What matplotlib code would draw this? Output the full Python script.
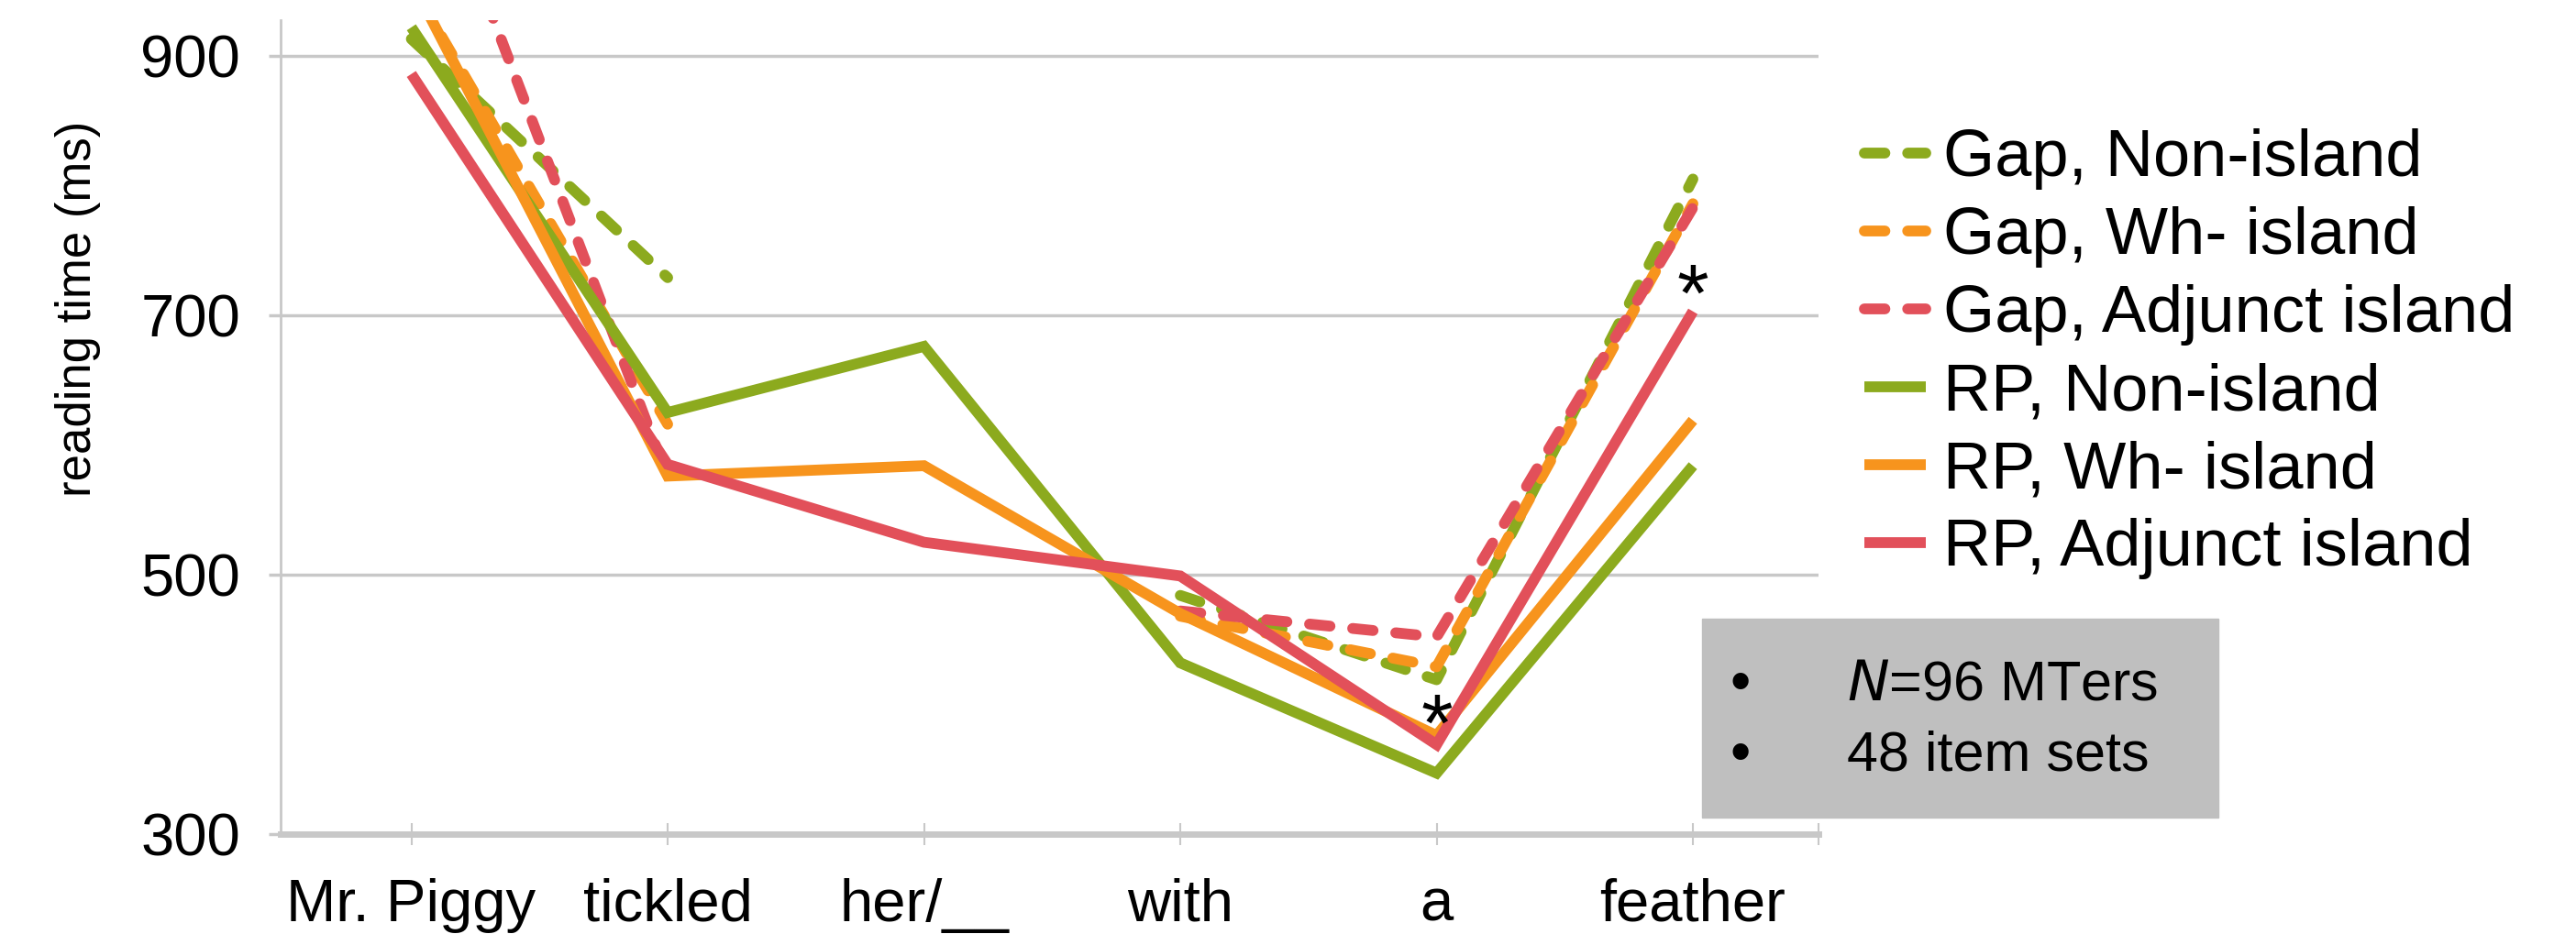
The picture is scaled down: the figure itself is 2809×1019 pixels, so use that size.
import numpy as np
import matplotlib
matplotlib.use("Agg")
import matplotlib.pyplot as plt
from matplotlib.patches import Rectangle

plt.rcParams['font.family'] = ['Liberation Sans', 'DejaVu Sans']

# region-by-region mean reading times (ms); gap conditions have no "her/__" region
words = ["Mr. Piggy", "tickled", "her/__", "with", "a", "feather"]
gap_non = [913, 729, np.nan, 484, 419, 805]
gap_wh = [955, 616, np.nan, 468, 429, 786]
gap_adj = [1095, 575, np.nan, 472, 452, 783]
rp_non = [922, 625, 676, 432, 347, 584]
rp_wh = [958, 576, 584, 470, 376, 619]
rp_adj = [886, 585, 525, 499, 369, 703]

# significance stars: (region index, height in ms)
stars = [(4, 381), (5, 712)]

green = "#8caa1e"
orange = "#f7941d"
red = "#e2505a"
grid_col = "#c8c8c8"

fig = plt.figure(figsize=(28.09, 10.19), dpi=100)
ax = fig.add_axes([306 / 2809, 109 / 1019, 1677 / 2809, 888 / 1019])

x = np.arange(len(words))
lw = 8.5
dash = (1.9, 2.1)

series = [
    (gap_non, green, True, "Gap, Non-island"),
    (gap_wh, orange, True, "Gap, Wh- island"),
    (gap_adj, red, True, "Gap, Adjunct island"),
    (rp_non, green, False, "RP, Non-island"),
    (rp_wh, orange, False, "RP, Wh- island"),
    (rp_adj, red, False, "RP, Adjunct island"),
]
for vals, col, dashed, lab in series:
    if dashed:
        ax.plot(x, vals, color=col, lw=lw, dashes=dash, dash_capstyle='round',
                solid_joinstyle='round', label=lab)
    else:
        ax.plot(x, vals, color=col, lw=lw, solid_capstyle='butt',
                solid_joinstyle='miter', label=lab)

for i, v in stars:
    ax.text(i, v, "*", fontsize=64, ha='center', va='center')

ax.set_xlim(-0.51, 5.49)
ax.set_ylim(300, 927.5)
ax.set_yticks([300, 500, 700, 900])
ax.set_xticks(x)
ax.set_xticklabels(words)
ax.set_xticks([5.49], minor=True)

ax.yaxis.grid(True, color=grid_col, lw=2.5)
ax.set_axisbelow(True)
for s in ["top", "right"]:
    ax.spines[s].set_visible(False)
ax.spines["left"].set_color(grid_col)
ax.spines["left"].set_linewidth(2)
ax.spines["bottom"].set_color(grid_col)
ax.spines["bottom"].set_linewidth(5)

ax.tick_params(axis='y', length=9.5, width=2.5, color=grid_col, pad=22, labelsize=47)
ax.tick_params(axis='x', which='both', direction='inout', length=17, width=1.5,
               color=grid_col, pad=26, labelsize=47)

ax.set_ylabel("reading time (ms)", fontsize=38)
ax.yaxis.set_label_coords(-0.117, 0.645)

fig.legend(loc='upper left', bbox_to_anchor=(2033 / 2809, 1 - 140 / 1019),
           frameon=False, fontsize=52, handlelength=0.93, handletextpad=0.26,
           labelspacing=0.25, borderaxespad=0, borderpad=0)

# sample info box
fig.patches.append(Rectangle((1856 / 2809, 1 - 892 / 1019), 563 / 2809, 217 / 1019,
                             transform=fig.transFigure, color="#bfbfbf", zorder=0))
fig.text(1898 / 2809, 1 - 748 / 1019, "•", fontsize=46, ha='center', va='center')
fig.text(1898 / 2809, 1 - 825 / 1019, "•", fontsize=46, ha='center', va='center')
fig.text(2014 / 2809, 1 - 748 / 1019, r"$\it{N}$=96 MTers", fontsize=44, va='center')
fig.text(2014 / 2809, 1 - 825 / 1019, "48 item sets", fontsize=44, va='center')

fig.savefig("out.png", dpi=100)
